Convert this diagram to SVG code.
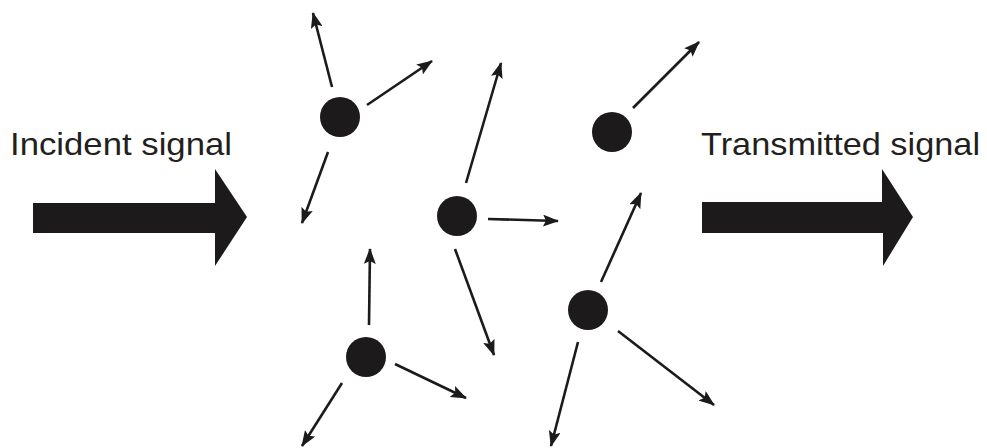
<svg xmlns="http://www.w3.org/2000/svg" width="987" height="448" viewBox="0 0 987 448">
<defs>
<style>
.lbl{font-family:"Liberation Sans",Arial,sans-serif;font-size:32px;fill:#231f20}
.p{fill:#1c1a1b}
.big{fill:#1c1a1b}
.c line{stroke:#1c1a1b;stroke-width:2.6;marker-end:url(#ah)}
</style>
<marker id="ah" markerUnits="userSpaceOnUse" markerWidth="16" markerHeight="12" viewBox="0 0 16 12" refX="15" refY="6" orient="auto">
<path d="M0,0 L16,6 L0,12 L3,6 Z" fill="#1c1a1b"/>
</marker>
</defs>
<rect width="987" height="448" fill="#fff"/>
<g id="incident">
<text class="lbl" x="10" y="155" textLength="222" lengthAdjust="spacingAndGlyphs">Incident signal</text>
<path class="big" d="M33,203 L215,203 L215,169 L247,217 L215,266 L215,233 L33,233 Z"/>
</g>
<g id="transmitted">
<text class="lbl" x="701" y="155" textLength="279" lengthAdjust="spacingAndGlyphs">Transmitted signal</text>
<path class="big" d="M702,202 L882,202 L882,169 L913,217 L883,266 L883,233 L702,233 Z"/>
</g>
<g id="particle1"><circle class="p" cx="340" cy="117" r="20"/></g>
<g id="particle2"><circle class="p" cx="457" cy="216" r="20"/></g>
<g id="particle3"><circle class="p" cx="612" cy="132" r="20"/></g>
<g id="particle4"><circle class="p" cx="588" cy="310" r="20"/></g>
<g id="particle5"><circle class="p" cx="366" cy="357" r="20"/></g>
<g id="connectors" class="c">
<line x1="332" y1="87" x2="313" y2="13"/>
<line x1="367" y1="105" x2="432" y2="61"/>
<line x1="328" y1="152" x2="302" y2="223"/>
<line x1="466" y1="183" x2="501" y2="63"/>
<line x1="488" y1="219" x2="558" y2="221"/>
<line x1="455" y1="249" x2="494" y2="355"/>
<line x1="633" y1="108" x2="699" y2="42"/>
<line x1="601" y1="282" x2="641" y2="193"/>
<line x1="618" y1="331" x2="714" y2="405"/>
<line x1="578" y1="342" x2="551" y2="446"/>
<line x1="369" y1="325" x2="370" y2="249"/>
<line x1="395" y1="364" x2="466" y2="398"/>
<line x1="342" y1="383" x2="302" y2="446"/>
</g>
</svg>
